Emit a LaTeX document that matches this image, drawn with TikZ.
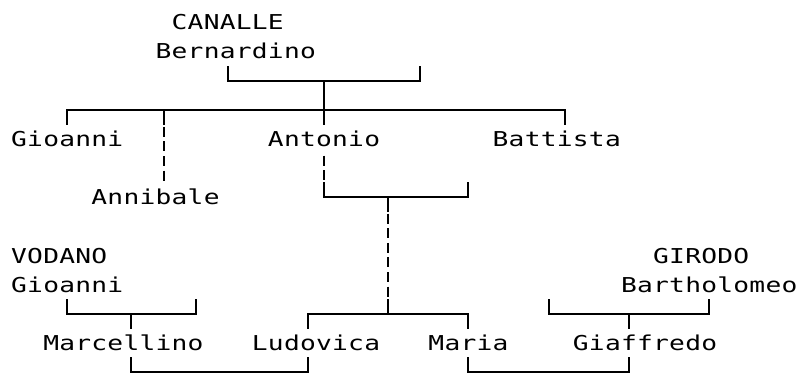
\documentclass[tikz,border=0pt]{standalone}
\usepackage{fontspec}
\usepackage{graphicx}
\newfontfamily\dmono{DejaVu Sans Mono}
\makeatletter
\newcommand\gridtext[1]{\@tfor\gch:=#1\do{\makebox[16.05pt][c]{\scalebox{1.28}[1]{\gch}}}}
\makeatother
\begin{document}
\begin{tikzpicture}[x=1pt,y=-1pt,
  declare function={cx(\k)=round(3+16.05*\k); gx(\k)=3+16.05*\k; ly(\r)=round(22.1+29.2*(\r-1)); tp(\r)=ly(\r)-14.6; bt(\r)=ly(\r)+14.6; bs(\r)=22.1+29.2*(\r-1)+7.4;},
  nametext/.style={font=\dmono\fontsize{20.5pt}{24pt}\selectfont, inner sep=0pt, outer sep=0pt, anchor=base west},
  treeline/.style={line width=2pt, line cap=butt, line join=miter},
  dashline/.style={line width=2pt, line cap=butt, dash pattern=on 10pt off 4.6pt}]
\useasboundingbox (0,0) rectangle (798,374);
\fill[white] (0,0) rectangle (798,374);
% names
\node[nametext] (canalle) at ({gx(11)-8.025},{bs(1)}) {\gridtext{CANALLE}};
\node[nametext] (bernardino) at ({gx(10)-8.025},{bs(2)}) {\gridtext{Bernardino}};
\node[nametext] (gioanni) at ({gx(1)-8.025},{bs(5)}) {\gridtext{Gioanni}};
\node[nametext] (antonio) at ({gx(17)-8.025},{bs(5)}) {\gridtext{Antonio}};
\node[nametext] (battista) at ({gx(31)-8.025},{bs(5)}) {\gridtext{Battista}};
\node[nametext] (annibale) at ({gx(6)-8.025},{bs(7)}) {\gridtext{Annibale}};
\node[nametext] (vodano) at ({gx(1)-8.025},{bs(9)}) {\gridtext{VODANO}};
\node[nametext] (gioannib) at ({gx(1)-8.025},{bs(10)}) {\gridtext{Gioanni}};
\node[nametext] (girodo) at ({gx(41)-8.025},{bs(9)}) {\gridtext{GIRODO}};
\node[nametext] (bartholomeo) at ({gx(39)-8.025},{bs(10)}) {\gridtext{Bartholomeo}};
\node[nametext] (marcellino) at ({gx(3)-8.025},{bs(12)}) {\gridtext{Marcellino}};
\node[nametext] (ludovica) at ({gx(16)-8.025},{bs(12)}) {\gridtext{Ludovica}};
\node[nametext] (maria) at ({gx(27)-8.025},{bs(12)}) {\gridtext{Maria}};
\node[nametext] (giaffredo) at ({gx(36)-8.025},{bs(12)}) {\gridtext{Giaffredo}};
% junction coordinates
\coordinate (c3a) at ({cx(14)},{tp(3)});
\coordinate (c3b) at ({cx(14)},{ly(3)});
\coordinate (c3c) at ({cx(26)},{ly(3)});
\coordinate (c3d) at ({cx(26)},{tp(3)});
\coordinate (c3m) at ({cx(20)},{ly(3)});
\coordinate (c4a) at ({cx(4)},{bt(4)});
\coordinate (c4b) at ({cx(4)},{ly(4)});
\coordinate (c4c) at ({cx(35)},{ly(4)});
\coordinate (c4d) at ({cx(35)},{bt(4)});
\coordinate (c4n) at ({cx(10)},{ly(4)});
\coordinate (c4nb) at ({cx(10)},{bt(4)});
\coordinate (c4nd) at ({cx(10)},{bt(6)});
\coordinate (c4t) at ({cx(20)},{bt(4)});
\coordinate (c6a) at ({cx(20)},{tp(6)+2.3});
\coordinate (c6b) at ({cx(20)},{bt(6)});
\coordinate (c7a) at ({cx(20)},{tp(7)});
\coordinate (c7b) at ({cx(20)},{ly(7)});
\coordinate (c7c) at ({cx(29)},{ly(7)});
\coordinate (c7d) at ({cx(29)},{tp(7)});
\coordinate (c7m) at ({cx(24)},{ly(7)});
\coordinate (c7mb) at ({cx(24)},{bt(7)});
\coordinate (c8a) at ({cx(24)},{tp(8)+2.3});
\coordinate (c10b) at ({cx(24)},{bt(10)});
\coordinate (c11m) at ({cx(24)},{tp(11)});
\coordinate (c11mb) at ({cx(24)},{ly(11)});
\coordinate (c11a) at ({cx(19)},{bt(11)});
\coordinate (c11b) at ({cx(19)},{ly(11)});
\coordinate (c11c) at ({cx(29)},{ly(11)});
\coordinate (c11d) at ({cx(29)},{bt(11)});
\coordinate (v11a) at ({cx(4)},{tp(11)});
\coordinate (v11b) at ({cx(4)},{ly(11)});
\coordinate (v11c) at ({cx(12)},{ly(11)});
\coordinate (v11d) at ({cx(12)},{tp(11)});
\coordinate (v11m) at ({cx(8)},{ly(11)});
\coordinate (v11mb) at ({cx(8)},{bt(11)});
\coordinate (g11a) at ({cx(34)},{tp(11)});
\coordinate (g11b) at ({cx(34)},{ly(11)});
\coordinate (g11c) at ({cx(44)},{ly(11)});
\coordinate (g11d) at ({cx(44)},{tp(11)});
\coordinate (g11m) at ({cx(39)},{ly(11)});
\coordinate (g11mb) at ({cx(39)},{bt(11)});
\coordinate (m13a) at ({cx(8)},{tp(13)});
\coordinate (m13b) at ({cx(8)},{ly(13)});
\coordinate (m13c) at ({cx(19)},{ly(13)});
\coordinate (m13d) at ({cx(19)},{tp(13)});
\coordinate (n13a) at ({cx(29)},{tp(13)});
\coordinate (n13b) at ({cx(29)},{ly(13)});
\coordinate (n13c) at ({cx(39)},{ly(13)});
\coordinate (n13d) at ({cx(39)},{tp(13)});
% connectors
\draw[treeline] (c3a) -- (c3b) -- (c3c) -- (c3d);
\draw[treeline] (c3m) -- (c4t);
\draw[treeline] (c4a) -- (c4b) -- (c4c) -- (c4d);
\draw[treeline] (c4n) -- (c4nb);
\draw[dashline] (c4nb) ++(0,2.3) -- (c4nd);
\draw[dashline] (c6a) -- (c6b);
\draw[treeline] (c7a) -- (c7b) -- (c7c) -- (c7d);
\draw[treeline] (c7m) -- (c7mb);
\draw[dashline] (c8a) -- (c10b);
\draw[treeline] (c11m) -- (c11mb);
\draw[treeline] (c11a) -- (c11b) -- (c11c) -- (c11d);
\draw[treeline] (v11a) -- (v11b) -- (v11c) -- (v11d);
\draw[treeline] (v11m) -- (v11mb);
\draw[treeline] (g11a) -- (g11b) -- (g11c) -- (g11d);
\draw[treeline] (g11m) -- (g11mb);
\draw[treeline] (m13a) -- (m13b) -- (m13c) -- (m13d);
\draw[treeline] (n13a) -- (n13b) -- (n13c) -- (n13d);
\end{tikzpicture}
\end{document}
